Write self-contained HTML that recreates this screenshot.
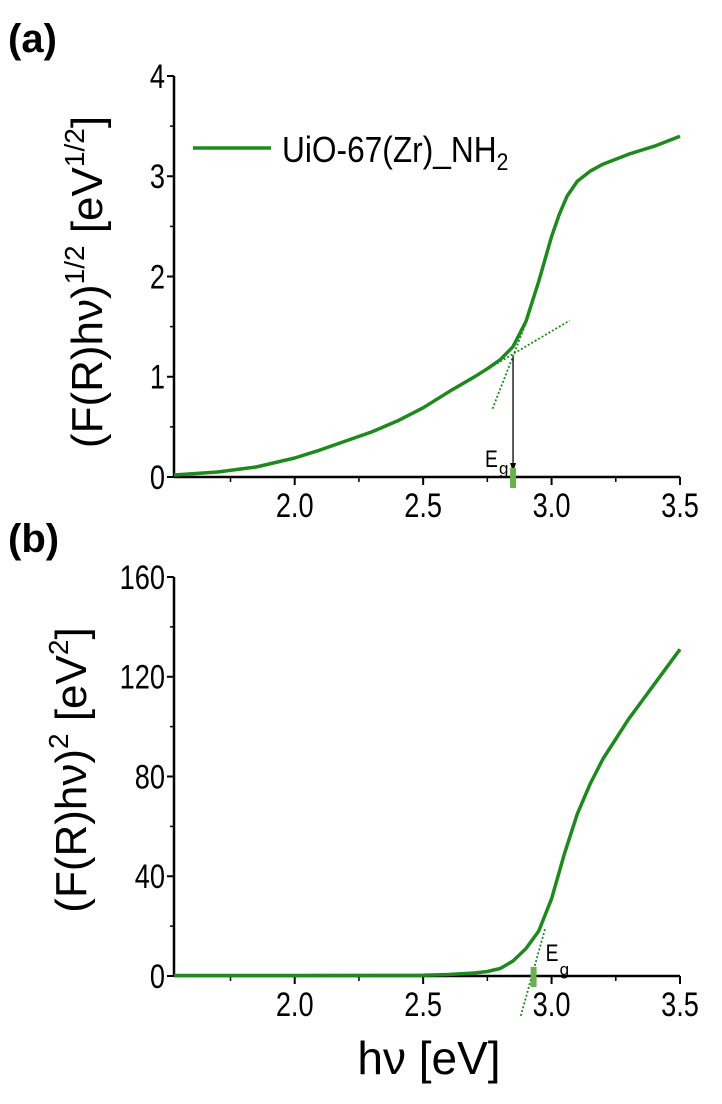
<!DOCTYPE html>
<html><head><meta charset="utf-8"><style>
body{margin:0;background:#fff;}
svg text{font-family:"Liberation Sans",sans-serif;}
</style></head><body>
<svg id="c" width="722" height="1099" xmlns="http://www.w3.org/2000/svg"></svg>
<script>
const xTicks=[2.0,2.5,3.0,3.5];
const xTickLabels=["2.0","2.5","3.0","3.5"];
const aYTicks=[0,1,2,3,4];
const bYTicks=[0,40,80,120,160];
const aX=[1.53,1.7,1.85,2.0,2.1,2.2,2.3,2.4,2.5,2.6,2.7,2.75,2.8,2.85,2.9,2.95,3.0,3.03,3.06,3.1,3.15,3.2,3.3,3.4,3.5];
const aY=[0.02,0.05,0.1,0.19,0.27,0.36,0.45,0.56,0.69,0.85,1.0,1.08,1.17,1.3,1.55,1.95,2.4,2.62,2.8,2.95,3.05,3.12,3.22,3.3,3.4];
const bX=[1.53,2.0,2.5,2.6,2.7,2.75,2.8,2.85,2.9,2.95,3.0,3.05,3.1,3.15,3.2,3.3,3.4,3.5];
const bY=[0.2,0.2,0.3,0.6,1.2,1.8,3,6,11,18,31,49,65,77,87,103,117,131];
const aEg=2.85, bEg=2.93;
const NS="http://www.w3.org/2000/svg";
const svg=document.getElementById('c');
function el(t,a,txt){const e=document.createElementNS(NS,t);for(const k in a)e.setAttribute(k,a[k]);if(txt!==undefined)e.textContent=txt;svg.appendChild(e);return e;}
const L=174,R=680,xmin=1.53,xmax=3.5;
const sx=v=>L+(v-xmin)/(xmax-xmin)*(R-L);
function panel(id,top,bot,ymax,yTicks,xs,ys){
  const sy=v=>bot-(v/ymax)*(bot-top);
  let e=el('line',{x1:L,y1:top,x2:L,y2:bot,stroke:'#000','stroke-width':2.5});
  
  e=el('line',{x1:L,y1:bot,x2:R,y2:bot,stroke:'#000','stroke-width':2.5});
  
  yTicks.forEach((t,i)=>{
    let tk=el('line',{x1:L-7,y1:sy(t),x2:L,y2:sy(t),stroke:'#000','stroke-width':2});
    
    let tx=el('text',{x:L-9,y:sy(t)+12,'text-anchor':'end','font-size':34,transform:`translate(${L-9} 0) scale(0.8 1) translate(${-(L-9)} 0)`},String(t));
    
    if(i<yTicks.length-1){const m=(t+yTicks[i+1])/2;
      let mk=el('line',{x1:L-4,y1:sy(m),x2:L,y2:sy(m),stroke:'#000','stroke-width':1.5});
      }
  });
  xTicks.forEach((t,i)=>{
    let tk=el('line',{x1:sx(t),y1:bot,x2:sx(t),y2:bot+8,stroke:'#000','stroke-width':2});
    
    let m=t-0.25;
    let mk=el('line',{x1:sx(m),y1:bot,x2:sx(m),y2:bot+5,stroke:'#000','stroke-width':1.5});
    
    let tx=el('text',{x:sx(t),y:bot+40,'text-anchor':'middle','font-size':34,transform:`translate(${sx(t)} 0) scale(0.8 1) translate(${-sx(t)} 0)`},xTickLabels[i]);
    
  });
  let d=xs.map((x,i)=>(i?'L':'M')+sx(x).toFixed(1)+' '+sy(ys[i]).toFixed(1)).join(' ');
  let p=el('path',{d:d,fill:'none',stroke:'#1e8a1e','stroke-width':3.5,'stroke-linejoin':'round'});
  
  return sy;
}
let sya=panel('panel-a',76,477,4,aYTicks,aX,aY);
let e;
e=el('line',{x1:sx(2.77),y1:sya(0.68),x2:sx(2.91),y2:sya(1.6),stroke:'#1e8a1e','stroke-width':1.8,'stroke-dasharray':'2 2'});

e=el('line',{x1:sx(2.72),y1:sya(1.03),x2:sx(3.07),y2:sya(1.56),stroke:'#1e8a1e','stroke-width':1.8,'stroke-dasharray':'2 2'});

e=el('line',{x1:sx(aEg),y1:sya(1.2),x2:sx(aEg),y2:sya(0.1),stroke:'#000','stroke-width':1.3});

e=el('path',{d:`M${sx(aEg)-3} ${sya(0.14)} L${sx(aEg)+3} ${sya(0.14)} L${sx(aEg)} ${sya(0.05)} Z`,fill:'#000'});

e=el('rect',{x:sx(aEg)-3,y:sya(0)-9,width:6,height:20,fill:'#6ab04c'});

e=el('text',{x:sx(aEg)-28,y:sya(0.1),'font-size':24,transform:`translate(${sx(aEg)-28} 0) scale(0.8 1) translate(${-(sx(aEg)-28)} 0)`},'E');

el('text',{x:sx(aEg)-14,y:sya(0.03),'font-size':17},'g');
e=el('line',{x1:193,y1:148,x2:271,y2:148,stroke:'#1e8a1e','stroke-width':3.5});

e=el('text',{x:282,y:162,'font-size':36,transform:'translate(282 0) scale(0.88 1) translate(-282 0)'});

e.innerHTML='UiO-67(Zr)_NH<tspan font-size="24" dy="8">2</tspan>';
let syb=panel('panel-b',577,976,160,bYTicks,bX,bY);
e=el('line',{x1:sx(2.88),y1:syb(-16),x2:sx(2.975),y2:syb(19),stroke:'#1e8a1e','stroke-width':1.8,'stroke-dasharray':'2 2'});

e=el('rect',{x:sx(bEg)-3,y:syb(0)-9,width:6,height:20,fill:'#6ab04c'});

e=el('text',{x:sx(bEg)+12,y:syb(6),'font-size':24,transform:`translate(${sx(bEg)+12} 0) scale(0.8 1) translate(${-(sx(bEg)+12)} 0)`},'E');

el('text',{x:sx(bEg)+26,y:syb(0.5),'font-size':17},'g');
e=el('text',{x:8,y:52,'font-size':40,'font-weight':'bold'},'(a)');

e=el('text',{x:8,y:552,'font-size':40,'font-weight':'bold'},'(b)');

e=el('text',{x:0,y:0,'font-size':44,'text-anchor':'middle',transform:'translate(102 282) rotate(-90)'});

e.innerHTML='(F(R)hν)<tspan font-size="28" dy="-18">1/2</tspan><tspan dy="18"> [eV</tspan><tspan font-size="28" dy="-18">1/2</tspan><tspan dy="18">]</tspan>';
e=el('text',{x:0,y:0,'font-size':44,'text-anchor':'middle',transform:'translate(86 770) rotate(-90)'});

e.innerHTML='(F(R)hν)<tspan font-size="28" dy="-18">2</tspan><tspan dy="18"> [eV</tspan><tspan font-size="28" dy="-18">2</tspan><tspan dy="18">]</tspan>';
e=el('text',{x:429,y:1074,'font-size':46,'text-anchor':'middle'},'hν [eV]');

</script>
</body></html>
